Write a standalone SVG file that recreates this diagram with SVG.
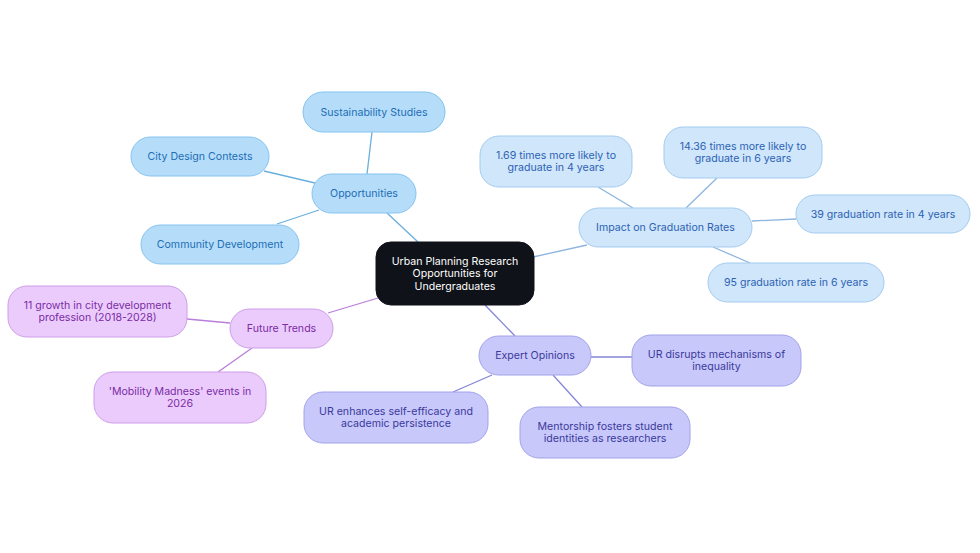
<svg xmlns="http://www.w3.org/2000/svg" width="980" height="553" viewBox="0 0 980 553">
<style>
text{font-family:Inter,"Noto Sans","Liberation Sans",sans-serif;font-size:10.6px;text-anchor:middle;dominant-baseline:central}
.op rect{fill:#b5ddfa;stroke:#84c3ee;stroke-width:1}
.op text{fill:#1d6db5}
.im rect{fill:#cfe6fb;stroke:#a3cbf0;stroke-width:1}
.im text{fill:#2e62b3}
.ex rect{fill:#c8c8fa;stroke:#a2a2ea;stroke-width:1}
.ex text{fill:#3b3a9c}
.fu rect{fill:#ebcbfb;stroke:#cc9ee8;stroke-width:1}
.fu text{fill:#7a2ba6}
.root rect{fill:#0f1218;stroke:#0f1218}
.root text{fill:#ffffff}
#edges line{stroke-width:1.3;fill:none}
.eb{stroke:#6aaedd}
.ei{stroke:#8db5e0}
.ee{stroke:#8484d8}
.ef{stroke:#b97edc}
</style>
<rect width="980" height="553" fill="#ffffff"/>
<g id="edges">
<line class="eb" x1="418" y1="242" x2="387" y2="213"/>
<line class="eb" x1="367" y1="174" x2="372" y2="132"/>
<line class="eb" x1="315" y1="183" x2="264" y2="171"/>
<line class="eb" x1="319" y1="210" x2="277" y2="224"/>
<line class="ei" x1="533" y1="257" x2="587" y2="245"/>
<line class="ei" x1="633" y1="208" x2="598" y2="187"/>
<line class="ei" x1="686" y1="208" x2="717" y2="178"/>
<line class="ei" x1="752" y1="221" x2="796" y2="219"/>
<line class="ei" x1="713" y1="247" x2="750" y2="263"/>
<line class="ee" x1="485" y1="305" x2="515" y2="336"/>
<line class="ee" x1="591" y1="357" x2="632" y2="357"/>
<line class="ee" x1="492" y1="375" x2="453" y2="392"/>
<line class="ee" x1="553" y1="375" x2="582" y2="407"/>
<line class="ef" x1="378" y1="298" x2="328" y2="313"/>
<line class="ef" x1="230" y1="323" x2="187" y2="319"/>
<line class="ef" x1="252" y1="348" x2="218" y2="372"/>
</g>
<g id="root" class="root">
<rect x="376" y="242" width="158" height="63" rx="15"/>
<text x="455" y="261">Urban Planning Research</text>
<text x="455" y="273.5">Opportunities for</text>
<text x="455" y="286">Undergraduates</text>
</g>
<g id="opportunities" class="op">
<rect x="312" y="174" width="104" height="39" rx="19.5"/>
<text x="364" y="193.5">Opportunities</text>
</g>
<g id="sustainability" class="op">
<rect x="303" y="92" width="142" height="40" rx="20"/>
<text x="374" y="112">Sustainability Studies</text>
</g>
<g id="citydesign" class="op">
<rect x="131" y="137" width="138" height="39" rx="19.5"/>
<text x="200" y="156.5">City Design Contests</text>
</g>
<g id="community" class="op">
<rect x="141" y="225" width="158" height="39" rx="19.5"/>
<text x="220" y="244.5">Community Development</text>
</g>
<g id="impact" class="im">
<rect x="579" y="208" width="173" height="39" rx="19.5"/>
<text x="665.5" y="227">Impact on Graduation Rates</text>
</g>
<g id="g169" class="im">
<rect x="480" y="136" width="152" height="51" rx="19"/>
<text x="556" y="155.5">1.69 times more likely to</text>
<text x="556" y="167.5">graduate in 4 years</text>
</g>
<g id="g1436" class="im">
<rect x="664" y="127" width="158" height="51" rx="19"/>
<text x="743" y="146.5">14.36 times more likely to</text>
<text x="743" y="158.5">graduate in 6 years</text>
</g>
<g id="g39" class="im">
<rect x="796" y="195" width="174" height="38" rx="19"/>
<text x="883" y="214">39 graduation rate in 4 years</text>
</g>
<g id="g95" class="im">
<rect x="708" y="263" width="176" height="39" rx="19.5"/>
<text x="796" y="282">95 graduation rate in 6 years</text>
</g>
<g id="expert" class="ex">
<rect x="479" y="336" width="112" height="39" rx="19.5"/>
<text x="535" y="355.5">Expert Opinions</text>
</g>
<g id="disrupts" class="ex">
<rect x="632" y="335" width="169" height="51" rx="19"/>
<text x="716.5" y="354.5">UR disrupts mechanisms of</text>
<text x="716.5" y="366.5">inequality</text>
</g>
<g id="enhances" class="ex">
<rect x="304" y="392" width="184" height="51" rx="19"/>
<text x="396" y="411.5">UR enhances self-efficacy and</text>
<text x="396" y="423.5">academic persistence</text>
</g>
<g id="mentorship" class="ex">
<rect x="520" y="407" width="170" height="51" rx="19"/>
<text x="605" y="426.5">Mentorship fosters student</text>
<text x="605" y="438.5">identities as researchers</text>
</g>
<g id="future" class="fu">
<rect x="230" y="309" width="103" height="39" rx="19.5"/>
<text x="281.5" y="328.5">Future Trends</text>
</g>
<g id="growth" class="fu">
<rect x="8" y="286" width="179" height="51" rx="19"/>
<text x="97.5" y="305.5">11 growth in city development</text>
<text x="97.5" y="317.5">profession (2018-2028)</text>
</g>
<g id="mobility" class="fu">
<rect x="94" y="372" width="172" height="51" rx="19"/>
<text x="180" y="391.5">'Mobility Madness' events in</text>
<text x="180" y="403.5">2026</text>
</g>
</svg>
